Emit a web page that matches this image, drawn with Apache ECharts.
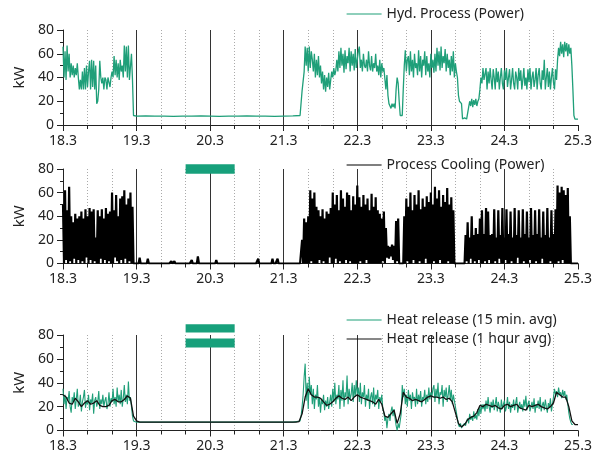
<!DOCTYPE html>
<html><head><meta charset="utf-8">
<script src="https://cdn.jsdelivr.net/npm/echarts@6/dist/echarts.min.js"></script>
<style>html,body{margin:0;padding:0;background:#fff}#c{width:598px;height:461px}</style>
</head><body><div id="c"></div>
<script>
// x in hours since 18.3 00:00; ticks every 24 h
const dayLabels = ['18.3','19.3','20.3','21.3','22.3','23.3','24.3','25.3'];
const yTicks = [0,20,40,60,80];

// Panel 1: Hyd. Process (Power), kW — 20-min samples
const hydA = [66,40,62,38,67,45,60,40, 52,42,50,40,48,42,52,40, 30,38,30,45,30, 48,30,50,32,45,
  54,30,55,32,54,30,50, 18,20,30, 54,40,35, 40,30,40,38,30,40,40,32,40, 45,40,58,42,55,
  40,52,38,55,45,50,40, 67,45,66,40,67, 38,38,60,38,8];
const hydFlat = [7.5,7.6,7.4,7.5,7.3,7.5,7.4,7.6,7.5,7.3,7.4,7.5,7.6,7.4,7.5,7.3,7.5,7.6]; // every 3 h from 24 h
const hydB = [8,8,29, 30,45, 66,50,65,45,66,48,62,55, 45,60,40,55,42,58,40,50,
  35,45,30,42,28,40,32,44,30,38, 45,40,48,42,46,
  55,45,62,48,65,50,60,44,63,47,58,52,65,45,62,50,60,46,64,48,55,62,
  66,48,55,45,60,50,48,55,45,62,50,46,58,45,52,48,60,45,
  50,42,55,40,52,45,48, 48,30,42,25,18, 16,14,18,15,18,14, 30,40,35,20, 8,8,8,
  30,50,63,45,55,
  58,42,62,45,55,40,60,48,52,42,63,45,58,40,55,50,62,42,58,45,52,40,60,48,55,44,
  60,45,65,50,62,46,66,48,58,52,64,45,60,48,55,42,58,45,62,40,52,45,
  40,25,20,21,18, 5,5,6,5,5,6, 15,20,16,22,15,21,17,22,16,20,22, 30,40,35,48,38,
  38,48,30,45,35,48,38,30,47,40,30,48,36,45,30,40,48,35,30,46,38,48,32,40,47,30,38,48,35,30,
  45,40,30,48,37,46,30,38,48,33,40,30,47,36,48,30,40,45,32,38,48,30,42,48,35,30,46,38,55,30,
  40,48,32,45,30,40,48,36,30,47,38,
  55,65,58,70,60,68,57,70,62,69,58,68,60,65, 50,30,8,5,5, 5,5];

// Panel 2: Process Cooling (Power), kW — 20-min samples
const coolA = [50,0,62,3,45,0,65,2, 40,0,35,4,42,0,38,3, 40,0,44,2,38,0,46,5,40,0,
  47,3,44,0,46,2,22,0,45,0,40,4, 46,0,38,3,47,0,42,2,44,0, 60,0,45,5,58,2,40,0,55,3,
  57,0,62,4,50,0,55,2,60,0,48,0];
const coolFlat = [0,0,0,5,0,0,0,0,0,0,0,4,0,0,0,0,0,0,0,0,
  0,0,0,0,0,0,0,0,0,0,0,0,0,0,2,0,0,2,0,0,
  0,0,0,0,0,0,0,0,0,0,0,0,0,0,3,0,0,0,0,0,
  6,0,0,0,0,0,0,0,0,0,0,0,0,0,0,0,0,0,3,0,
  0,0,0,0,0,0,0,0,0,0,1,0,0,0,0,0,0,0,0,0,
  0,0,0,0,0,0,0,0,0,0,0,0,0,0,0,0,0,0,0,4,
  0,0,0,0,0,0,0,0,0,0,0,0,0,4,0,0,0,0,4,0,
  0,0,0,0,0,0,0,0,0,0,0,0,0,0,0,0,0,0,0]; // 20-min from 24 h
const coolB = [0,0,20, 0,38,0,35,0,40, 0,62,2,55,0,60,
  0,48,0,45,3,40,0,46,2,38,0,44,0,42,5,47,
  0,60,0,50,4,58,0,45,2,62,0,55,0,48,3,60,0,58,2,45,0,57,0,50,0,66,
  0,56,2,48,0,58,0,50,3,55,0,45,0,59,0,48,0,56,0,45,
  0,42,0,38,2,44,0,30, 5,15,4,14,6,16,3,15, 0,36,2,38, 0,0,0,0,
  0,40,0,55,2,48,0,60,0,45,3,58,0,50,0,62,2,46,0,55,0,48,4,57,0,52,
  0,60,0,50,2,65,0,55,0,62,3,48,0,58,0,52,0,64,2,50,0,56,0,45,
  0,0,0,0,0,0,0,0,0,0,
  0,24,2,35,0,22,4,40,0,24,2,30,0,25,3,38,
  0,45,0,25,2,47,0,44,3,24,0,25,0,46,2,22,0,45,4,24,0,47,0,22,3,46,0,25,0,44,2,22,0,47,0,24,
  5,45,0,22,0,46,2,25,0,44,0,22,3,47,0,24,0,45,2,25,0,46,0,22,4,44,0,24,0,47,0,22,2,45,0,25,0,46,
  0,66,2,60,0,65,3,62,0,58,0,64,0,40,
  0,0,0,0,0,0,0,0];

// Panel 3: Heat release, kW — 15-min avg (20-min samples) and 1-hour avg
const heat15A = [35,22,30,18,28,25,33,20,15,28,24,32,18,26,35,20,22,30,16,24,28,34,19,25,22,30,17,26,23,31,
  14,25,28,20,24,33,18,26,22,30,20,25,28,18,22,32,20,27,24,35,22,28,20,36,24,30,22,34,20,27,
  38,24,30,22,41,25,28,20,12,8];
const heat15Flat = [7,7,7,7,7,7,7,7,7,7,7,7,7,7,7,7,7,7]; // every 3 h from 24 h
const heat15B = [8,12,20,30,45, 56,25,40,18,45,30,38,
  22,35,18,30,26,38,20,28,15,26,22,30,17,25,20,28,18,24,
  30,20,35,24,40,22,30,26,38,18,34,25,42,20,32,28,46,22,35,26,30,40,24,38,28,42,30,
  36,24,40,22,32,28,38,20,30,25,35,18,28,32,22,36,20,30,26,34,18,28,24,30,18,
  15,8,12,2,10,14,8,16,20,12,18,10,4,0,6,2,8,14,
  38,28,35,22,30,20,34,25,30,18,32,26,28,20,35,22,30,24,33,20,28,26,34,22,30,24,36,26,32,28,35,
  38,24,35,28,40,22,32,30,38,20,34,28,36,24,30,38,26,34,22,30,25,20,
  15,10,5,3,6,2,4,3,6,4,8, 10,6,14,9,12,8,16,10,13,9,18,12,20,14,22,18,
  22,16,25,18,28,20,15,24,19,26,17,22,28,16,24,20,15,26,18,22,25,16,20,28,18,24,15,22,19,26,
  17,23,28,15,20,24,18,22,16,26,20,29,17,22,25,16,20,24,18,27,15,22,19,25,18,28,16,21,24,17,
  26,20,15,23,19,27,16,22,
  28,35,30,33,28,36,30,32,27,34,29,33,26,30, 22,15,10,7,5,5];
const heatHourA = [30,28,23,22,27,24,20,23,25,22,23,25,21,20,20,21,25,26,24,24,26,29,27,12,8]; // h0..h24
const heatHourFlat = [7,7,7,7,7,7,7,7,7,7,7,7,7,7,7,7,7,7]; // every 3 h from 25 h
const heatHourB = [7.5,14,28,35,30,28,28,27,24,21, 22,24,27,29,27,26,28,25,28,30,
  28,27,26,25,24,22,26,22,12,11, 14,17,6,14,32,28,27,25,26,25,
  24,26,28,29,28,28,27,28,26,27, 24,15,6,3,5,9,11,12,15,21,
  20,22,21,20,21,19,18,21,22,20, 21,22,19,18,17,21,20,21,22,20,
  19,18,20,23,32,30,28,28,20,8, 5,5]; // from h77

// annotation boxes [x0,x1,y0,y1] in hours / kW
const boxCool = [[40,56,76,84]];
const boxHeat = [[40,56,82,89],[40,56,69.5,77]];

const H20 = 1/3;
function seg(start, step, arr){ return arr.map((v,i)=>[start+i*step, v]); }
function clamp(d){ return d.filter(p=>p[0]<=168.01); }
const hydData = clamp([].concat(seg(0,H20,hydA), seg(24,3,hydFlat), seg(77+H20,H20,hydB)));
const coolData = clamp([].concat(seg(0,H20,coolA), seg(24,H20,coolFlat), seg(77+H20,H20,coolB)));
const h15Data = clamp([].concat(seg(0,H20,heat15A), seg(24,3,heat15Flat), seg(77+H20,H20,heat15B)));
const h1Data = clamp([].concat(seg(0,1,heatHourA), seg(25,3,heatHourFlat), seg(77,1,heatHourB)));

const FONT = 'Noto Sans';
const TXT = '#222';
const GREEN = '#1f9f79';
const BOXGREEN = '#17a07b';
const grids = [{left:63,width:515,top:30,height:95},{left:63,width:515,top:169,height:94.5},{left:63,width:515,top:335,height:95.5}];
function xAx(i){ return {type:'value',gridIndex:i,min:0,max:168,interval:24,
  axisLine:{show:true,onZero:false,lineStyle:{color:TXT,width:1}},
  axisTick:{show:true,length:6,lineStyle:{color:TXT}},
  minorTick:{show:true,splitNumber:3,length:4,lineStyle:{color:TXT}},
  axisLabel:{formatter:v=>dayLabels[Math.round(v/24)],fontSize:14,color:TXT,fontFamily:FONT,margin:9},
  splitLine:{show:true,showMinLine:false,showMaxLine:false,lineStyle:{color:'#333',width:1}},
  minorSplitLine:{show:true,lineStyle:{color:'#aaa',width:1,type:[1,2]}}}; }
function yAx(i){ return {type:'value',gridIndex:i,min:yTicks[0],max:yTicks[yTicks.length-1],interval:20,
  name:'kW',nameLocation:'middle',nameGap:33,nameTextStyle:{fontSize:15,color:TXT,fontFamily:FONT},
  axisLine:{show:true,lineStyle:{color:TXT,width:1}},
  axisTick:{show:true,length:6,lineStyle:{color:TXT}},
  minorTick:{show:true,splitNumber:2,length:3,lineStyle:{color:TXT}},
  axisLabel:{fontSize:14,color:TXT,fontFamily:FONT,margin:9},
  splitLine:{show:false}}; }
function boxSeries(i, b){ return {type:'custom',xAxisIndex:i,yAxisIndex:i,data:b,clip:false,silent:true,z:5,
  encode:{x:[0,1],y:[2,3]},
  renderItem:(p,api)=>{const a=api.coord([api.value(0),api.value(3)]);const c=api.coord([api.value(1),api.value(2)]);
    return {type:'rect',shape:{x:a[0],y:a[1],width:c[0]-a[0],height:c[1]-a[1]},style:{fill:BOXGREEN}};}}; }
const lg = {itemWidth:35,itemHeight:14,itemGap:5,itemStyle:{opacity:0},lineStyle:{width:1.2},
  textStyle:{fontSize:14,color:TXT,fontFamily:FONT},padding:0,selectedMode:false};

const option = {
  animation:false,
  grid:grids,
  xAxis:[xAx(0),xAx(1),xAx(2)],
  yAxis:[yAx(0),yAx(1),yAx(2)],
  legend:[
    Object.assign({},lg,{data:['Hyd. Process (Power)'],left:346,top:7}),
    Object.assign({},lg,{data:['Process Cooling (Power)'],left:346,top:158}),
    Object.assign({},lg,{data:['Heat release (15 min. avg)','Heat release (1 hour avg)'],left:346,top:313,orient:'vertical'})
  ],
  series:[
    {name:'Hyd. Process (Power)',type:'line',xAxisIndex:0,yAxisIndex:0,data:hydData,symbol:'none',
      lineStyle:{color:GREEN,width:1.3},itemStyle:{color:GREEN}},
    {name:'Process Cooling (Power)',type:'line',xAxisIndex:1,yAxisIndex:1,data:coolData,symbol:'none',
      lineStyle:{color:'#000',width:2.2},itemStyle:{color:'#000'}},
    {name:'Heat release (15 min. avg)',type:'line',xAxisIndex:2,yAxisIndex:2,data:h15Data,symbol:'none',
      lineStyle:{color:GREEN,width:1.1},itemStyle:{color:GREEN}},
    {name:'Heat release (1 hour avg)',type:'line',xAxisIndex:2,yAxisIndex:2,data:h1Data,symbol:'none',
      lineStyle:{color:'#111',width:1.3},itemStyle:{color:'#111'}},
    boxSeries(1, boxCool),
    boxSeries(2, boxHeat)
  ]
};
const chart = echarts.init(document.getElementById('c'),null,{renderer:'canvas'});
chart.setOption(option);
</script></body></html>
